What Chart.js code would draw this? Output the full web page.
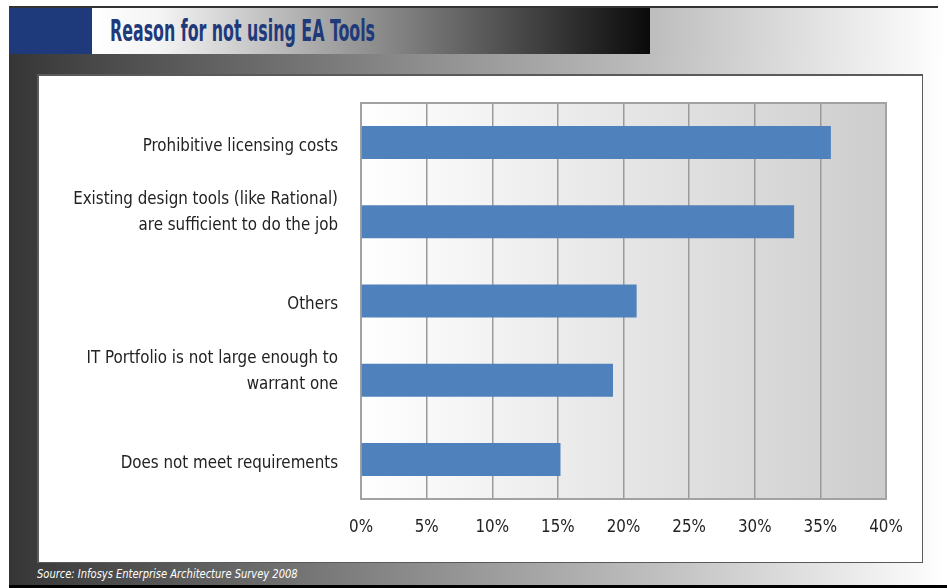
<!DOCTYPE html>
<html>
<head>
<meta charset="utf-8">
<script src="https://cdn.jsdelivr.net/npm/chart.js@4/dist/chart.umd.min.js"></script>
<style>
    body { margin: 0; width: 947px; height: 588px; background: #fff; overflow: hidden; position: relative; font-family: 'DejaVu Sans Condensed', sans-serif; }
    .abs { position: absolute; }
    #topLine { left: 9px; top: 6px; width: 929px; height: 2px; background: #333; }
    #navy { left: 9px; top: 8px; width: 83px; height: 46px; background: #1f3a7a; }
    #titleBox { left: 92px; top: 8px; width: 558px; height: 46px; background: linear-gradient(to right, #fff 0%, #f4f4f4 12%, #8a8a8a 52%, #0a0a0a 100%); }
    #titleBox span { position: absolute; left: 18px; top: 4px; font-weight: bold; font-size: 31px; color: #1f3a7a; transform: scaleX(0.568); transform-origin: left top; white-space: nowrap; }
    #headRight { left: 650px; top: 8px; width: 297px; height: 46px; background: linear-gradient(to right, #bdbdbd, #fff); }
    #frameBg { left: 9px; top: 54px; width: 938px; height: 531px; background: linear-gradient(to right, #353535 0%, #3c3c3c 3%, #b9b9b9 66%, #fff 100%); }
    #bottomLine { left: 9px; top: 585px; width: 938px; height: 3px; background: #000; }
    #panel { left: 37px; top: 74px; width: 886px; height: 489px; background: #fff; box-sizing: border-box; border: 1px solid #5a5a5a; border-width: 2px 1px 1px 2px; }
    #chartBox { left: 37px; top: 74px; width: 886px; height: 489px; }
    #source { left: 37px; top: 567px; font-size: 12px; font-style: italic; color: #fff; white-space: nowrap; transform: scaleX(0.92); transform-origin: left top; }
</style>
</head>
<body>
<div class="abs" id="frameBg"></div>
<div class="abs" id="topLine"></div>
<div class="abs" id="navy"></div>
<div class="abs" id="titleBox"><span>Reason for not using EA Tools</span></div>
<div class="abs" id="headRight"></div>
<div class="abs" id="bottomLine"></div>
<div class="abs" id="panel"></div>
<div class="abs" id="chartBox"><canvas id="grafico" width="886" height="489"></canvas></div>
<div class="abs" id="source">Source: Infosys Enterprise Architecture Survey 2008</div>

<script>
// ==================== DATA ====================
// (linha em branco no fim dos rótulos de duas linhas: sobe o texto como no original)
const categorias = [
    'Prohibitive licensing costs',
    ['Existing design tools (like Rational)', 'are sufficient to do the job', ' '],
    'Others',
    ['IT Portfolio is not large enough to', 'warrant one', ' '],
    'Does not meet requirements'
];
const percentuais = [35.8, 33.0, 21.0, 19.2, 15.2];
const ticksX = [0, 5, 10, 15, 20, 25, 30, 35, 40];
const ticksXLabels = ['0%', '5%', '10%', '15%', '20%', '25%', '30%', '35%', '40%'];

const fonte = "'DejaVu Sans Condensed', sans-serif";

// fundo em degradê da área do gráfico + borda
const fundoPlot = {
    id: 'fundoPlot',
    beforeDraw(chart) {
        const { ctx, chartArea: a } = chart;
        const g = ctx.createLinearGradient(a.left, 0, a.right, 0);
        g.addColorStop(0, '#ffffff');
        g.addColorStop(1, '#cdcdcd');
        ctx.save();
        ctx.fillStyle = g;
        ctx.fillRect(a.left, a.top, a.right - a.left, a.bottom - a.top);
        ctx.restore();
    },
    beforeDatasetsDraw(chart) {
        const { ctx, chartArea: a } = chart;
        ctx.save();
        ctx.strokeStyle = '#a2a2a2';
        ctx.lineWidth = 2;
        ctx.strokeRect(a.left, a.top, a.right - a.left, a.bottom - a.top);
        ctx.restore();
    }
};

new Chart(document.getElementById('grafico').getContext('2d'), {
    type: 'bar',
    data: {
        labels: categorias,
        datasets: [{
            data: percentuais,
            backgroundColor: '#4f81bd',
            borderWidth: 0,
            categoryPercentage: 1,
            barPercentage: 0.417
        }]
    },
    options: {
        indexAxis: 'y',
        responsive: false,
        animation: false,
        layout: { padding: { top: 29, right: 37, bottom: 0, left: 0 } },
        plugins: {
            legend: { display: false },
            tooltip: { enabled: false }
        },
        scales: {
            x: {
                min: 0,
                max: 40,
                afterBuildTicks: (scale) => { scale.ticks = ticksX.map(v => ({ value: v })); },
                afterFit: (scale) => { scale.height = 64; },
                ticks: {
                    callback: (v, i) => ticksXLabels[i],
                    color: '#222',
                    font: { family: fonte, size: 16.8 },
                    padding: 19,
                    maxRotation: 0,
                    autoSkip: false
                },
                grid: { color: '#9a9a9a', lineWidth: 1.5, drawTicks: false },
                border: { color: '#a2a2a2', width: 2 }
            },
            y: {
                afterFit: (scale) => {
                    scale.width = 324;
                    scale.paddingTop = 0;
                    scale.paddingBottom = 0;
                },
                ticks: {
                    color: '#222',
                    font: { family: fonte, size: 16.8, lineHeight: 1.55 },
                    padding: 23,
                    labelOffset: 4,
                    autoSkip: false
                },
                grid: { display: false, drawTicks: false },
                border: { color: '#a2a2a2', width: 2 }
            }
        }
    },
    plugins: [fundoPlot]
});
</script>
</body>
</html>
